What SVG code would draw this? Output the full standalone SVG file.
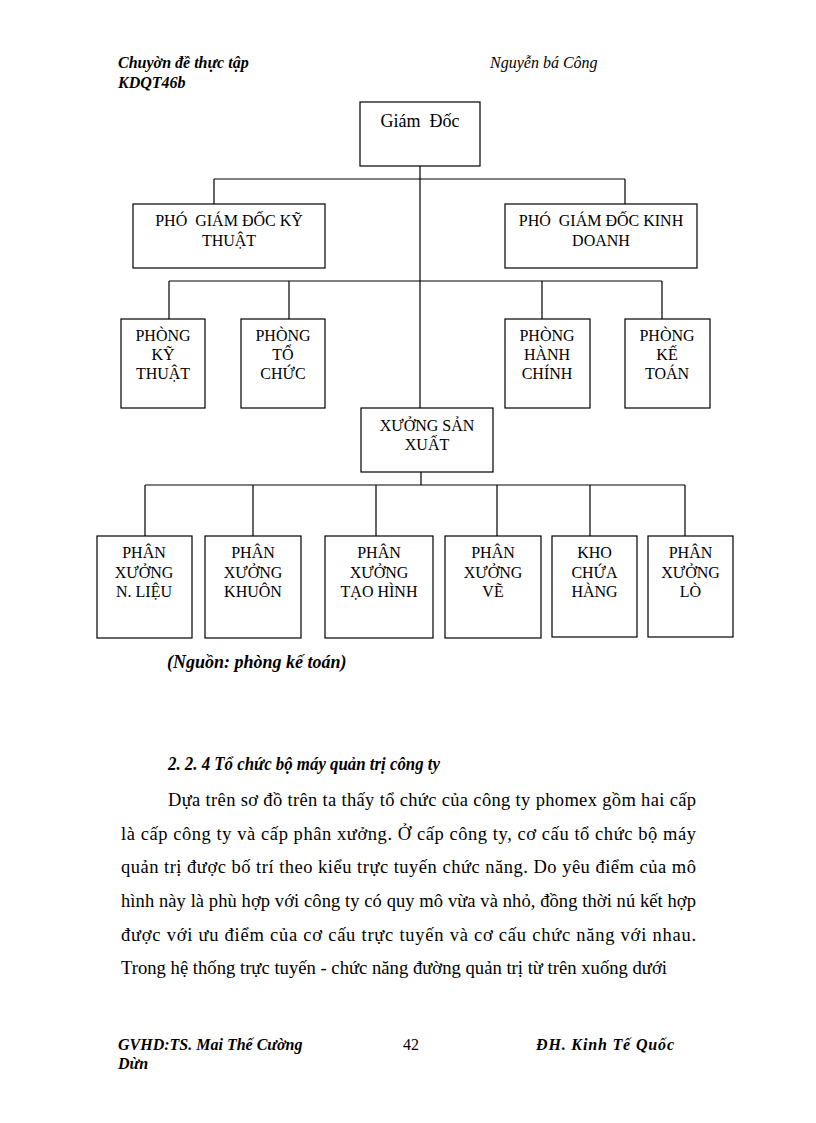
<svg xmlns="http://www.w3.org/2000/svg" width="816" height="1123" viewBox="0 0 816 1123">
<style>
.bg{fill:#fff}
.box{fill:#fff;stroke:#000;stroke-width:1.2}
.ln{fill:none;stroke:#000;stroke-width:1.2}
.bt{font-family:"Liberation Serif","Times New Roman",serif;font-size:16px;fill:#000;text-anchor:middle}
.hd{font-family:"Liberation Serif","Times New Roman",serif;font-size:16px;font-style:italic;font-weight:bold;fill:#000}
.body{font-family:"Liberation Serif","Times New Roman",serif;font-size:18.5px;fill:#000}
.bi{font-family:"Liberation Serif","Times New Roman",serif;font-size:18px;font-style:italic;font-weight:bold;fill:#000}
</style>
<rect class="bg" x="0" y="0" width="816" height="1123"/>
<g id="header">
<text class="hd" x="118" y="68">Chuyờn đề thực tập</text>
<text class="hd" x="118" y="88">KDQT46b</text>
<text class="hd" x="490" y="68" style="font-weight:normal">Nguyễn bá Công</text>
</g>
<g id="connectors">
<path class="ln" d="M420,166 V408"/>
<path class="ln" d="M214,179 H625 M214,179 V204 M625,179 V204"/>
<path class="ln" d="M169,281 H662 M169,281 V319 M289,281 V319 M542,281 V319 M662,281 V319"/>
<path class="ln" d="M421,472 V485 M145,485 H685 M145,485 V536 M253,485 V536 M376,485 V536 M497,485 V536 M590,485 V536 M685,485 V536"/>
</g>
<g id="giam-doc">
<rect class="box" x="360" y="102" width="120" height="64"/>
<text class="bt" x="420" y="127" style="font-size:18px" xml:space="preserve">Giám  Đốc</text>
</g>
<g id="pgd-ky-thuat">
<rect class="box" x="133" y="204" width="192" height="64"/>
<text class="bt" x="229" y="226" xml:space="preserve">PHÓ  GIÁM ĐỐC KỸ</text>
<text class="bt" x="229" y="246">THUẬT</text>
</g>
<g id="pgd-kinh-doanh">
<rect class="box" x="505" y="204" width="192" height="64"/>
<text class="bt" x="601" y="226" xml:space="preserve">PHÓ  GIÁM ĐỐC KINH</text>
<text class="bt" x="601" y="246">DOANH</text>
</g>
<g id="phong-ky-thuat">
<rect class="box" x="121" y="319" width="84" height="89"/>
<text class="bt" x="163" y="341">PHÒNG</text>
<text class="bt" x="163" y="360">KỸ</text>
<text class="bt" x="163" y="379">THUẬT</text>
</g>
<g id="phong-to-chuc">
<rect class="box" x="241" y="319" width="84" height="89"/>
<text class="bt" x="283" y="341">PHÒNG</text>
<text class="bt" x="283" y="360">TỔ</text>
<text class="bt" x="283" y="379">CHỨC</text>
</g>
<g id="phong-hanh-chinh">
<rect class="box" x="505" y="319" width="85" height="89"/>
<text class="bt" x="547" y="341">PHÒNG</text>
<text class="bt" x="547" y="360">HÀNH</text>
<text class="bt" x="547" y="379">CHÍNH</text>
</g>
<g id="phong-ke-toan">
<rect class="box" x="625" y="319" width="85" height="89"/>
<text class="bt" x="667" y="341">PHÒNG</text>
<text class="bt" x="667" y="360">KẾ</text>
<text class="bt" x="667" y="379">TOÁN</text>
</g>
<g id="xuong-san-xuat">
<rect class="box" x="361" y="408" width="132" height="64"/>
<text class="bt" x="427" y="431">XƯỞNG SẢN</text>
<text class="bt" x="427" y="450">XUẤT</text>
</g>
<g id="px-nguyen-lieu">
<rect class="box" x="97" y="536" width="95" height="102"/>
<text class="bt" x="144" y="558">PHÂN</text>
<text class="bt" x="144" y="578">XƯỞNG</text>
<text class="bt" x="144" y="597">N. LIỆU</text>
</g>
<g id="px-khuon">
<rect class="box" x="205" y="536" width="96" height="102"/>
<text class="bt" x="253" y="558">PHÂN</text>
<text class="bt" x="253" y="578">XƯỞNG</text>
<text class="bt" x="253" y="597">KHUÔN</text>
</g>
<g id="px-tao-hinh">
<rect class="box" x="325" y="536" width="108" height="102"/>
<text class="bt" x="379" y="558">PHÂN</text>
<text class="bt" x="379" y="578">XƯỞNG</text>
<text class="bt" x="379" y="597">TẠO HÌNH</text>
</g>
<g id="px-ve">
<rect class="box" x="445" y="536" width="96" height="102"/>
<text class="bt" x="493" y="558">PHÂN</text>
<text class="bt" x="493" y="578">XƯỞNG</text>
<text class="bt" x="493" y="597">VẼ</text>
</g>
<g id="kho-chua-hang">
<rect class="box" x="552" y="536" width="85" height="101"/>
<text class="bt" x="594.5" y="558">KHO</text>
<text class="bt" x="594.5" y="578">CHỨA</text>
<text class="bt" x="594.5" y="597">HÀNG</text>
</g>
<g id="px-lo">
<rect class="box" x="648" y="536" width="85" height="101"/>
<text class="bt" x="690.5" y="558">PHÂN</text>
<text class="bt" x="690.5" y="578">XƯỞNG</text>
<text class="bt" x="690.5" y="597">LÒ</text>
</g>
<g id="text-body">
<text class="bi" x="167" y="668">(Nguồn: phòng kế toán)</text>
<text class="bi" x="168" y="770" textLength="272" lengthAdjust="spacingAndGlyphs">2. 2. 4 Tổ chức bộ máy quản trị công ty</text>
<text class="body" x="168" y="806" textLength="528" lengthAdjust="spacing">Dựa trên sơ đồ trên ta thấy tổ chức của công ty phomex gồm hai  cấp</text>
<text class="body" x="121" y="840" textLength="575" lengthAdjust="spacing">là  cấp công ty và cấp phân xưởng. Ở cấp công ty, cơ cấu tổ chức bộ máy</text>
<text class="body" x="121" y="873" textLength="575" lengthAdjust="spacing">quản trị được bố trí theo kiểu trực tuyến chức năng. Do yêu điểm của mô</text>
<text class="body" x="121" y="907" textLength="575" lengthAdjust="spacing">hình này là phù hợp với công ty có quy mô vừa và nhỏ, đồng thời nú kết hợp</text>
<text class="body" x="121" y="941" textLength="575" lengthAdjust="spacing">được với ưu điểm của cơ cấu trực tuyến và cơ cấu chức năng với nhau.</text>
<text class="body" x="121" y="974" textLength="546" lengthAdjust="spacingAndGlyphs">Trong hệ thống trực tuyến - chức năng đường quản trị từ trên xuống dưới</text>
</g>
<g id="footer">
<text class="hd" x="118" y="1050">GVHD:TS. Mai Thế Cường</text>
<text class="hd" x="118" y="1069">Dừn</text>
<text class="body" x="403" y="1050" style="font-size:16px">42</text>
<text class="hd" x="536" y="1050" textLength="138" lengthAdjust="spacing">ĐH. Kinh Tế Quốc</text>
</g>
</svg>
